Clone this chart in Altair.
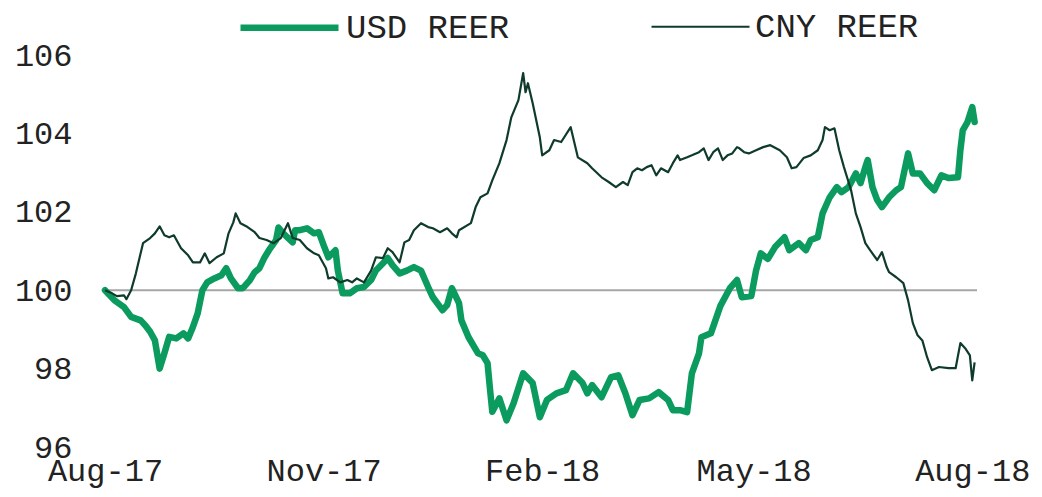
import altair as alt
import pandas as pd

# day offsets from 2017-08-01 and index values
usd_day = [0, 4, 8, 11, 15, 17, 19, 21, 23, 25, 27, 30, 33, 35, 37, 39, 41, 43, 46, 49,
           51, 53, 56, 58, 61, 63, 65, 67, 69, 72, 73, 75, 79, 80, 82, 85, 88, 90, 92, 94,
           97, 98, 100, 103, 106, 109, 112, 114, 117, 119, 121, 124, 127, 130, 133, 136, 138, 142, 144, 146,
           149, 150, 153, 157, 159, 161, 162, 163, 166, 169, 172, 176, 180, 183, 186, 190, 194, 197, 201, 203,
           205, 209, 213, 216, 219, 222, 225, 229, 233, 237, 239, 242, 245, 247, 250, 251, 255, 259, 263, 266,
           268, 272, 274, 276, 279, 282, 286, 288, 292, 295, 297, 300, 302, 305, 308, 310, 313, 316, 318, 320,
           321, 323, 325, 327, 330, 333, 335, 338, 340, 343, 346, 349, 352, 355, 359, 360, 361, 363, 365, 366]
usd_val = [100.0, 99.74, 99.57, 99.32, 99.23, 99.10, 98.94, 98.72, 98.00, 98.39, 98.81, 98.77, 98.90, 98.77, 99.06, 99.41, 100.00, 100.20, 100.30, 100.38,
           100.56, 100.30, 100.05, 100.05, 100.26, 100.46, 100.56, 100.82, 101.02, 101.28, 101.60, 101.45, 101.22, 101.53, 101.53, 101.58, 101.45, 101.48, 101.15, 100.84,
           101.02, 100.50, 99.92, 99.92, 100.05, 100.08, 100.26, 100.50, 100.69, 100.82, 100.64, 100.43, 100.50, 100.59, 100.50, 100.08, 99.82, 99.49, 99.62, 100.05,
           99.67, 99.23, 98.80, 98.39, 98.34, 98.14, 97.50, 96.90, 97.24, 96.68, 97.12, 97.88, 97.63, 96.76, 97.20, 97.37, 97.45, 97.88, 97.63, 97.37,
           97.58, 97.27, 97.78, 97.83, 97.37, 96.81, 97.20, 97.24, 97.40, 97.20, 96.94, 96.94, 96.89, 97.88, 98.39, 98.80, 98.90, 99.60, 100.05, 100.26,
           99.82, 99.85, 100.50, 100.94, 100.80, 101.10, 101.35, 101.02, 101.20, 101.02, 101.28, 101.35, 101.96, 102.37, 102.63, 102.50, 102.63, 102.98, 102.73, 103.14,
           103.32, 102.63, 102.30, 102.12, 102.37, 102.55, 102.63, 103.49, 102.98, 102.98, 102.73, 102.55, 102.93, 102.86, 102.88, 103.57, 104.08, 104.29, 104.67, 104.29]

cny_day = [0, 3, 5, 8, 9, 11, 13, 16, 19, 21, 23, 25, 27, 29, 32, 35, 37, 40, 42, 44,
           47, 50, 52, 54, 55, 57, 60, 63, 65, 68, 71, 74, 77, 79, 82, 85, 88, 90, 93, 94,
           96, 99, 102, 104, 106, 109, 112, 114, 117, 119, 121, 124, 126, 128, 130, 133, 136, 138, 141, 144,
           146, 148, 149, 154, 156, 158, 161, 163, 166, 169, 171, 174, 176, 177, 178, 180, 183, 184, 187, 189,
           192, 196, 199, 203, 205, 209, 212, 215, 218, 220, 222, 224, 226, 228, 230, 232, 234, 237, 239, 241,
           242, 245, 247, 250, 252, 254, 256, 258, 260, 262, 264, 266, 267, 269, 271, 274, 277, 280, 284, 287,
           289, 291, 294, 297, 300, 302, 303, 305, 307, 309, 311, 314, 316, 318, 320, 322, 325, 327, 329, 330,
           333, 336, 338, 340, 342, 344, 346, 348, 351, 355, 358, 360, 362, 364, 365, 366]
cny_val = [100.0, 99.92, 99.85, 99.87, 99.77, 100.0, 100.43, 101.20, 101.33, 101.45, 101.63, 101.40, 101.35, 101.40, 101.07, 100.89, 100.71, 100.71, 100.94, 100.69,
           100.84, 100.94, 101.45, 101.73, 101.96, 101.71, 101.61, 101.48, 101.33, 101.28, 101.20, 101.33, 101.71, 101.33, 101.28, 101.07, 100.94, 100.89, 100.56, 100.30,
           100.33, 100.20, 100.26, 100.20, 100.30, 100.20, 100.50, 100.84, 100.82, 101.07, 100.97, 100.71, 101.22, 101.28, 101.53, 101.71, 101.61, 101.58, 101.48, 101.58,
           101.45, 101.35, 101.53, 101.71, 102.12, 102.37, 102.47, 102.80, 103.24, 103.83, 104.41, 104.85, 105.54, 105.05, 105.28, 104.77, 103.90, 103.44, 103.57, 103.83,
           103.78, 104.16, 103.39, 103.24, 103.11, 102.88, 102.76, 102.63, 102.76, 102.68, 103.01, 103.11, 103.06, 103.14, 103.19, 102.93, 103.11, 103.01, 103.24, 103.44,
           103.32, 103.39, 103.44, 103.52, 103.62, 103.32, 103.52, 103.62, 103.32, 103.44, 103.49, 103.65, 103.62, 103.52, 103.49, 103.57, 103.65, 103.70, 103.57, 103.39,
           103.11, 103.14, 103.37, 103.44, 103.57, 103.83, 104.16, 104.08, 104.13, 103.57, 103.14, 102.55, 101.96, 101.61, 101.20, 101.02, 100.77, 100.97, 100.59, 100.46,
           100.33, 100.18, 99.74, 99.16, 98.85, 98.72, 98.29, 97.96, 98.04, 98.01, 98.01, 98.65, 98.52, 98.34, 97.70, 98.16]

series_names = ["USD REER", "CNY REER"]
series_colors = ["#0B9B5E", "#0F3B2A"]
series_widths = [6.5, 2.2]
baseline = [100]
y_ticks = [96, 98, 100, 102, 104, 106]

start = pd.Timestamp("2017-08-01")
usd_df = pd.DataFrame({"date": start + pd.to_timedelta(usd_day, unit="D"),
                       "value": usd_val, "series": series_names[0]})
cny_df = pd.DataFrame({"date": start + pd.to_timedelta(cny_day, unit="D"),
                       "value": cny_val, "series": series_names[1]})
base_df = pd.DataFrame({"value": baseline})

FONT = "Liberation Mono"

x_enc = alt.X("date:T",
              scale=alt.Scale(domain=[alt.DateTime(year=2017, month=8, date=1),
                                      alt.DateTime(year=2018, month=8, date=3)]),
              axis=alt.Axis(title=None, format="%b-%y", domain=False, ticks=False, tickSize=0,
                            grid=False, labelFont=FONT, labelFontSize=32, labelColor="#222222",
                            labelPadding=8, labelFlush=False, labelOverlap=False, labelBound=False,
                            values=[alt.DateTime(year=2017, month=8, date=1),
                                    alt.DateTime(year=2017, month=11, date=1),
                                    alt.DateTime(year=2018, month=2, date=1),
                                    alt.DateTime(year=2018, month=5, date=1),
                                    alt.DateTime(year=2018, month=8, date=1)]))
y_enc = alt.Y("value:Q",
              scale=alt.Scale(domain=[96, 106], nice=False, zero=False),
              axis=alt.Axis(title=None, values=y_ticks, domain=False, ticks=False, tickSize=0,
                            grid=False, labelFont=FONT, labelFontSize=32, labelColor="#222222",
                            labelPadding=33))

legend_props = dict(title=None, orient="none", direction="horizontal", legendX=132, legendY=-80,
                    symbolType="stroke", symbolSize=9604, labelFont=FONT, labelFontSize=34,
                    labelColor="#222222", labelOffset=4, labelLimit=0, columnPadding=137, padding=0)

color_enc = alt.Color("series:N", scale=alt.Scale(domain=series_names, range=series_colors),
                      legend=alt.Legend(**legend_props))
width_enc = alt.StrokeWidth("series:N", scale=alt.Scale(domain=series_names, range=series_widths),
                            legend=alt.Legend(**legend_props))

rule = alt.Chart(base_df).mark_rule(color="#A6A6A6", strokeWidth=2).encode(
    y=alt.Y("value:Q", scale=alt.Scale(domain=[96, 106]))
)
usd_line = alt.Chart(usd_df).mark_line(strokeJoin="round", strokeCap="round").encode(
    x=x_enc, y=y_enc, color=color_enc, strokeWidth=width_enc
)
cny_line = alt.Chart(cny_df).mark_line(strokeJoin="round").encode(
    x=x_enc, y=y_enc, color=color_enc, strokeWidth=width_enc
)

chart = alt.layer(rule, usd_line, cny_line).properties(
    width=872, height=392,
    autosize=alt.AutoSizeParams(type="none"),
    padding={"left": 97, "top": 47, "right": 57, "bottom": 42},
).configure_view(stroke=None)

chart.save("out.html", embed_options={"renderer": "svg", "actions": False})
